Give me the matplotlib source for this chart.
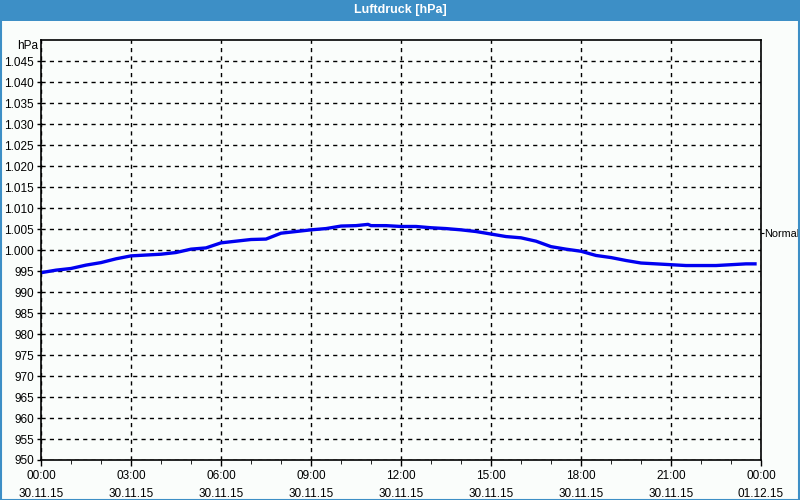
import numpy as np
import matplotlib.pyplot as plt
from matplotlib.patches import Rectangle

plt.rcParams['font.family'] = ['Liberation Sans', 'DejaVu Sans']

stunden = [0, 0.5, 1, 1.5, 2, 2.5, 3, 3.5, 4, 4.5, 5, 5.5, 6, 6.5, 7, 7.5, 8,
           8.5, 9, 9.5, 10, 10.5, 10.9, 11, 11.5, 12, 12.5, 13, 13.5, 14, 14.5,
           15, 15.5, 16, 16.5, 17, 17.5, 18, 18.5, 19, 19.5, 20, 20.5, 21,
           21.5, 22, 22.5, 23, 23.5, 23.8]
druck = [994.6, 995.2, 995.6, 996.4, 997.0, 997.9, 998.6, 998.8, 999.0, 999.4,
         1000.2, 1000.5, 1001.7, 1002.1, 1002.5, 1002.6, 1004.0, 1004.4, 1004.8,
         1005.1, 1005.7, 1005.8, 1006.1, 1005.8, 1005.8, 1005.6, 1005.6, 1005.3,
         1005.1, 1004.8, 1004.4, 1003.8, 1003.2, 1002.9, 1002.1, 1000.8, 1000.2,
         999.7, 998.7, 998.2, 997.5, 996.9, 996.7, 996.5, 996.3, 996.3, 996.3,
         996.5, 996.7, 996.7]

y_ticks = list(range(950, 1050, 5))
x_ticks = [0, 3, 6, 9, 12, 15, 18, 21, 24]
x_labels = ['00:00\n30.11.15', '03:00\n30.11.15', '06:00\n30.11.15',
            '09:00\n30.11.15', '12:00\n30.11.15', '15:00\n30.11.15',
            '18:00\n30.11.15', '21:00\n30.11.15', '00:00\n01.12.15']
normal = 1004

bg = '#fafdfb'
blau = '#3d8fc6'

fig = plt.figure(figsize=(8, 5), dpi=100, facecolor=bg)
ax = fig.add_axes([41/800, 40/500, 720/800, 420/500])
ax.set_facecolor(bg)

ax.plot(stunden, druck, color='#0000f0', linewidth=2.4)

ax.set_xlim(0, 24)
ax.set_ylim(950, 1050)
ax.set_yticks(y_ticks)
ax.set_yticklabels([f'{v:,}'.replace(',', '.') for v in y_ticks])
ax.set_xticks(x_ticks)
ax.set_xticklabels(x_labels, linespacing=1.65)
ax.set_xticks(range(25), minor=True)
ax.tick_params(axis='both', labelsize=8.5, length=4, width=1, color='black')
ax.tick_params(axis='x', which='minor', length=3)
ax.tick_params(axis='x', pad=3)
ax.tick_params(axis='y', length=3, pad=2)

ax.grid(True, which='major', color='black', linestyle=(0, (3, 3)), linewidth=1)
for s in ax.spines.values():
    s.set_linewidth(1.2)
    s.set_color('black')

ax.text(-0.004, 1.0 - 6/420, 'hPa', transform=ax.transAxes, ha='right',
        va='center', fontsize=8.5)

# Normaldruck rechts
ax2 = ax.twinx()
ax2.set_ylim(950, 1050)
ax2.set_yticks([normal])
ax2.set_yticklabels(['Normal'])
ax2.tick_params(axis='y', labelsize=7.8, length=2, pad=0.5)
for s in ax2.spines.values():
    s.set_visible(False)

# Titelleiste und Rahmen
fig.patches.append(Rectangle((0, 1 - 21/500), 1, 21/500, transform=fig.transFigure,
                             facecolor=blau, edgecolor='none', zorder=0))
fig.patches.append(Rectangle((0.5/800, 0.5/500), 798.5/800, 498.5/500,
                             transform=fig.transFigure, facecolor='none',
                             edgecolor=blau, linewidth=1.5, zorder=0))
fig.text(0.5, 1 - 10.5/500, 'Luftdruck [hPa]', color='white', fontsize=9,
         fontweight='bold', ha='center', va='center')

fig.savefig('out.png', dpi=100, facecolor=bg)
